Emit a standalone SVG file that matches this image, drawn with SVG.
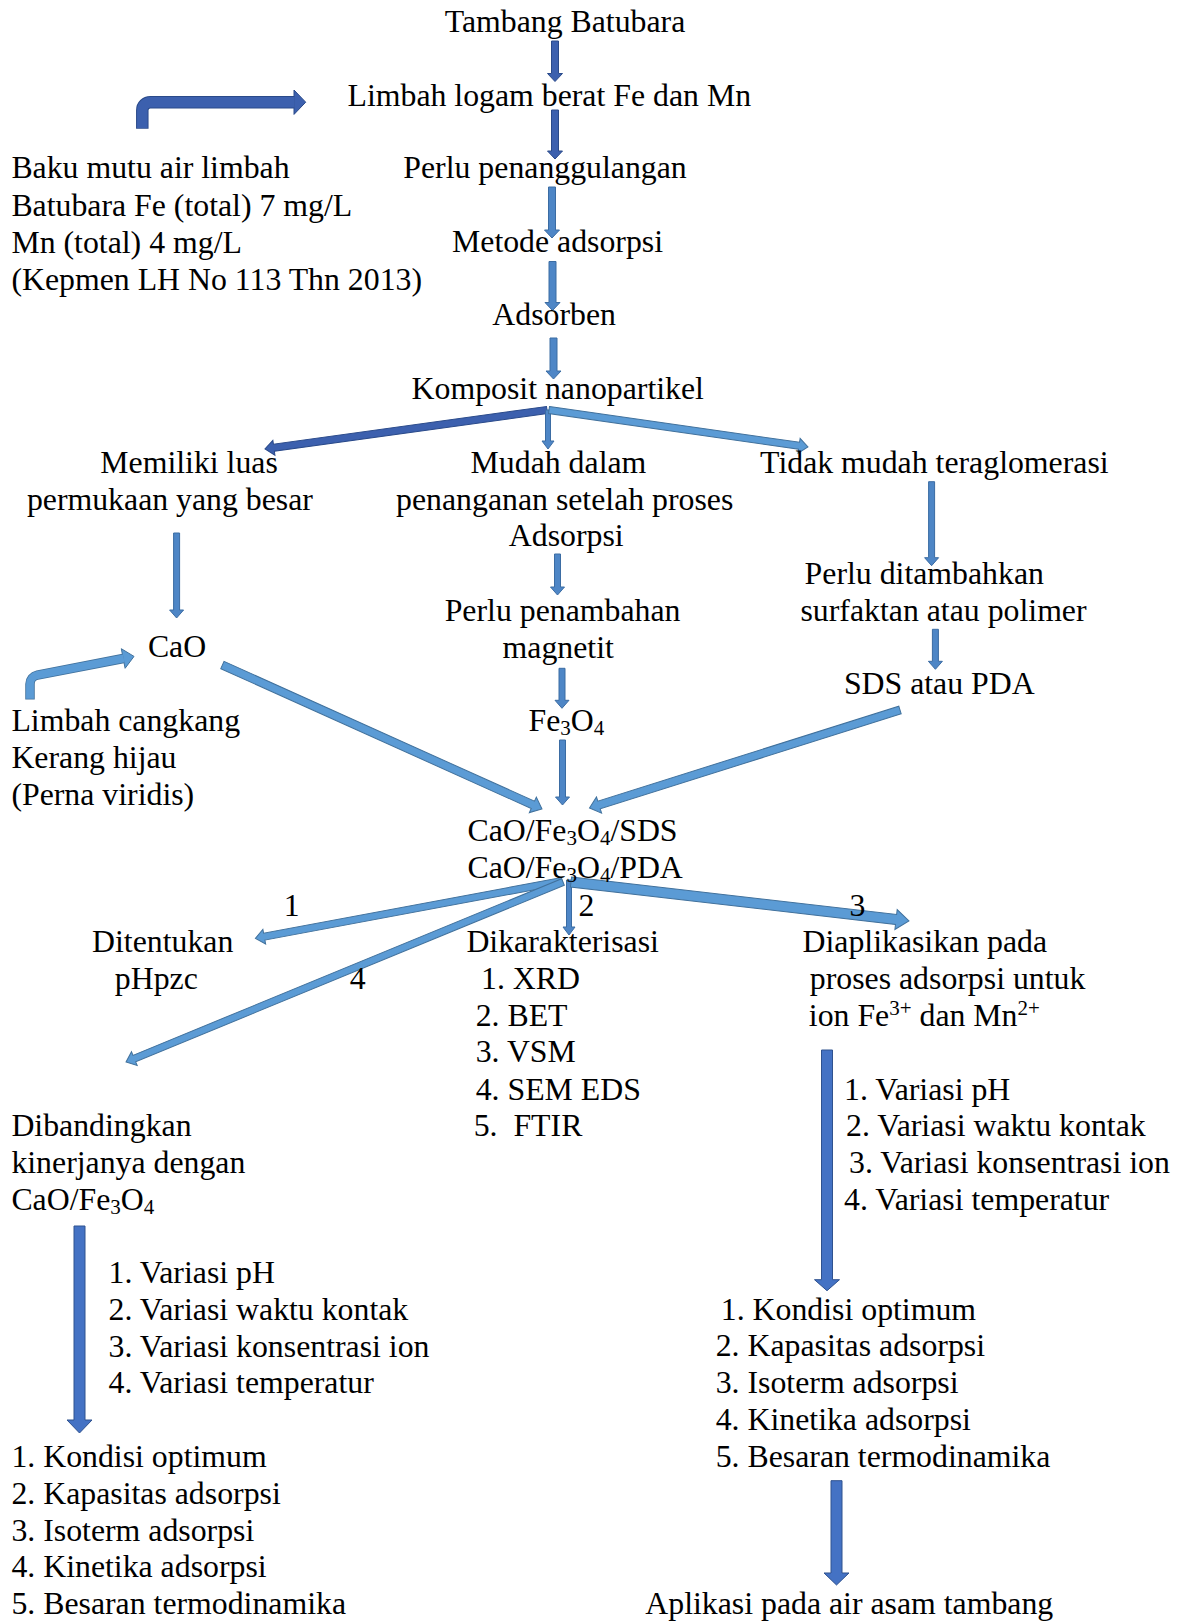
<svg xmlns="http://www.w3.org/2000/svg" width="1178" height="1621" viewBox="0 0 1178 1621">
<style>
text{font-family:"Liberation Serif","Times New Roman",serif;font-size:31.8px;fill:#000}
.sub{font-size:21px}
.sup{font-size:21px}
.num{text-anchor:middle}
.dk{fill:#3C60AE;stroke:#2A4A8A;stroke-width:1}
.md{fill:#4E86C6;stroke:#3B6CA3;stroke-width:1}
.lt{fill:#5B9BD5;stroke:#41719C;stroke-width:1}
.bg{fill:#4472C4;stroke:#2F528F;stroke-width:1}
.sh{fill:none;stroke-linecap:butt;stroke-linejoin:round}
</style>
<rect width="1178" height="1621" fill="#fff"/>

<g id="connectors">
  <!-- top chain -->
  <path class="dk" transform="translate(555,41) rotate(90)" d="M0,-3.5H32.5V-7.5L40.5,0L32.5,7.5V3.5H0Z"/>
  <path class="dk" transform="translate(555,110) rotate(90)" d="M0,-3.5H41V-7.5L49,0L41,7.5V3.5H0Z"/>
  <path class="md" transform="translate(552,187) rotate(90)" d="M0,-3.5H43V-7.5L51,0L43,7.5V3.5H0Z"/>
  <path class="md" transform="translate(552.5,261.5) rotate(90)" d="M0,-3.5H41V-7.5L49,0L41,7.5V3.5H0Z"/>
  <path class="md" transform="translate(553.5,338) rotate(90)" d="M0,-3.5H33V-7.5L41,0L33,7.5V3.5H0Z"/>
  <!-- bent arrow: baku mutu -> limbah -->
  <path class="sh" stroke="#2A4A8A" stroke-width="12.5" d="M142.3,128.8V110.2A8,8 0 0 1 150.3,102.2H294"/>
  <polygon class="dk" points="294,90 305.7,102.2 294,114.4"/>
  <path class="sh" stroke="#3C60AE" stroke-width="10.5" d="M142.3,128V110.2A8,8 0 0 1 150.3,102.2H294.6"/>
  <!-- komposit branches -->
  <path class="dk" transform="translate(547,410) rotate(172.13)" d="M0,-3.5H275.7V-7.5L284.7,0L275.7,7.5V3.5H0Z"/>
  <path class="md" transform="translate(548,410) rotate(90)" d="M0,-2.5H31V-6L39,0L31,6V2.5H0Z"/>
  <path class="lt" transform="translate(549,410) rotate(8.13)" d="M0,-3.5H252.6V-7.5L261.6,0L252.6,7.5V3.5H0Z"/>
  <!-- columns -->
  <path class="md" transform="translate(176.6,533) rotate(90)" d="M0,-3H77V-7L85,0L77,7V3H0Z"/>
  <path class="md" transform="translate(557.5,554) rotate(90)" d="M0,-3H33V-7L41,0L33,7V3H0Z"/>
  <path class="md" transform="translate(931.6,481.7) rotate(90)" d="M0,-3H76V-7L84,0L76,7V3H0Z"/>
  <path class="md" transform="translate(935.4,629.3) rotate(90)" d="M0,-3H32V-7L40,0L32,7V3H0Z"/>
  <path class="md" transform="translate(562,668.3) rotate(90)" d="M0,-3H32V-7L40,0L32,7V3H0Z"/>
  <path class="md" transform="translate(562.5,740) rotate(90)" d="M0,-3H57V-7L65,0L57,7V3H0Z"/>
  <path class="lt" transform="translate(222.4,665) rotate(24.25)" d="M0,-4H340.5V-8.5L350.5,0L340.5,8.5V4H0Z"/>
  <path class="lt" transform="translate(900,710) rotate(162.48)" d="M0,-4H315.6V-8.5L325.6,0L315.6,8.5V4H0Z"/>
  <!-- bent arrow: limbah cangkang -> CaO -->
  <path class="sh" stroke="#41719C" stroke-width="9.5" d="M30,699.5V684A9,9 0 0 1 37.3,675.2L123.2,658.5"/>
  <polygon class="lt" points="125.1,668.3 134,656.4 121.3,648.7"/>
  <path class="sh" stroke="#5B9BD5" stroke-width="7.8" d="M30,698.8V684A9,9 0 0 1 37.3,675.2L123.8,658.4"/>
  <!-- composite branches -->
  <path class="lt" transform="translate(562,881) rotate(169.41)" d="M0,-3.5H302.9V-7.5L311.9,0L302.9,7.5V3.5H0Z"/>
  <path class="lt" transform="translate(563,882) rotate(157.61)" d="M0,-3.5H463.6V-7.5L472.6,0L463.6,7.5V3.5H0Z"/>
  <path class="md" transform="translate(569,880) rotate(90)" d="M0,-2.5H47V-6L55,0L47,6V2.5H0Z"/>
  <path class="lt" transform="translate(571,882) rotate(6.58)" d="M0,-5H327.2V-10L340.2,0L327.2,10V5H0Z"/>
  <!-- big verticals -->
  <path class="bg" transform="translate(827,1050) rotate(90)" d="M0,-5.5H229.7V-12.5L240.7,0L229.7,12.5V5.5H0Z"/>
  <path class="bg" transform="translate(79.5,1226) rotate(90)" d="M0,-5.5H194V-12.5L207,0L194,12.5V5.5H0Z"/>
  <path class="bg" transform="translate(836.5,1480.7) rotate(90)" d="M0,-5.5H92.3V-12.5L104.3,0L92.3,12.5V5.5H0Z"/>
</g>

<g id="n-tambang"><text x="444.7" y="31.5">Tambang Batubara</text></g>
<g id="n-limbah"><text x="347.5" y="106">Limbah logam berat Fe dan Mn</text></g>
<g id="n-baku">
  <text x="11.4" y="178">Baku mutu air limbah</text>
  <text x="11.4" y="215.5">Batubara Fe (total) 7 mg/L</text>
  <text x="11.4" y="252.5">Mn (total) 4 mg/L</text>
  <text x="11.4" y="290">(Kepmen LH No 113 Thn 2013)</text>
</g>
<g id="n-perlu"><text x="403.3" y="178.3">Perlu penanggulangan</text></g>
<g id="n-metode"><text x="452" y="252.3">Metode adsorpsi</text></g>
<g id="n-adsorben"><text x="492.3" y="325">Adsorben</text></g>
<g id="n-komposit"><text x="411.6" y="399">Komposit nanopartikel</text></g>
<g id="n-memiliki">
  <text x="100.3" y="473">Memiliki luas</text>
  <text x="26.9" y="510">permukaan yang besar</text>
</g>
<g id="n-mudah">
  <text x="470.6" y="473">Mudah dalam</text>
  <text x="396.1" y="510">penanganan setelah proses</text>
  <text x="508.8" y="546">Adsorpsi</text>
</g>
<g id="n-tidak"><text x="760.1" y="473">Tidak mudah teraglomerasi</text></g>
<g id="n-perlu-ditambahkan">
  <text x="804.6" y="583.5">Perlu ditambahkan</text>
  <text x="800.5" y="620.7">surfaktan atau polimer</text>
</g>
<g id="n-sds"><text x="843.9" y="694">SDS atau PDA</text></g>
<g id="n-perlu-penambahan">
  <text x="444.7" y="620.7">Perlu penambahan</text>
  <text x="502.6" y="658">magnetit</text>
</g>
<g id="n-cao"><text x="147.9" y="657">CaO</text></g>
<g id="n-cangkang">
  <text x="11.4" y="731.4">Limbah cangkang</text>
  <text x="11.4" y="767.6">Kerang hijau</text>
  <text x="11.4" y="804.8">(Perna viridis)</text>
</g>
<g id="n-fe3o4"><text x="528.5" y="731.4">Fe<tspan class="sub" dy="4">3</tspan><tspan dy="-4">O</tspan><tspan class="sub" dy="4">4</tspan></text></g>
<g id="n-komposit2">
  <text x="467.5" y="841">CaO/Fe<tspan class="sub" dy="4">3</tspan><tspan dy="-4">O</tspan><tspan class="sub" dy="4">4</tspan><tspan dy="-4">/SDS</tspan></text>
  <text x="467.5" y="878.2">CaO/Fe<tspan class="sub" dy="4">3</tspan><tspan dy="-4">O</tspan><tspan class="sub" dy="4">4</tspan><tspan dy="-4">/PDA</tspan></text>
</g>
<g id="labels">
  <text class="num" x="291.6" y="915.5">1</text>
  <text class="num" x="586.4" y="915.5">2</text>
  <text class="num" x="857.4" y="915.5">3</text>
  <text class="num" x="357.8" y="989">4</text>
</g>
<g id="n-ditentukan">
  <text x="92" y="951.7">Ditentukan</text>
  <text x="114.8" y="989">pHpzc</text>
</g>
<g id="n-dikarakterisasi">
  <text x="466.4" y="951.7">Dikarakterisasi</text>
  <text x="481" y="989">1. XRD</text>
  <text x="475.7" y="1026">2. BET</text>
  <text x="475.7" y="1062.3">3. VSM</text>
  <text x="475.7" y="1099.5">4. SEM EDS</text>
  <text x="473.7" y="1135.7" xml:space="preserve">5.  FTIR</text>
</g>
<g id="n-diaplikasikan">
  <text x="802.5" y="951.7">Diaplikasikan pada</text>
  <text x="809.8" y="989">proses adsorpsi untuk</text>
  <text x="808.8" y="1026">ion Fe<tspan class="sup" dy="-11">3+</tspan><tspan dy="11"> dan Mn</tspan><tspan class="sup" dy="-11">2+</tspan></text>
</g>
<g id="n-variasi-kanan">
  <text x="844" y="1099.5">1. Variasi pH</text>
  <text x="846" y="1135.7">2. Variasi waktu kontak</text>
  <text x="849" y="1173">3. Variasi konsentrasi ion</text>
  <text x="844" y="1210">4. Variasi temperatur</text>
</g>
<g id="n-dibandingkan">
  <text x="11.4" y="1135.7">Dibandingkan</text>
  <text x="11.4" y="1173">kinerjanya dengan</text>
  <text x="11.4" y="1210">CaO/Fe<tspan class="sub" dy="4">3</tspan><tspan dy="-4">O</tspan><tspan class="sub" dy="4">4</tspan></text>
</g>
<g id="n-variasi-kiri">
  <text x="108.6" y="1282.5">1. Variasi pH</text>
  <text x="108.6" y="1319.8">2. Variasi waktu kontak</text>
  <text x="108.6" y="1357">3. Variasi konsentrasi ion</text>
  <text x="108.6" y="1393.3">4. Variasi temperatur</text>
</g>
<g id="n-hasil-kanan">
  <text x="720.8" y="1320">1. Kondisi optimum</text>
  <text x="715.7" y="1356">2. Kapasitas adsorpsi</text>
  <text x="715.7" y="1392.5">3. Isoterm adsorpsi</text>
  <text x="715.7" y="1430">4. Kinetika adsorpsi</text>
  <text x="715.7" y="1466.7">5. Besaran termodinamika</text>
</g>
<g id="n-hasil-kiri">
  <text x="11.4" y="1467">1. Kondisi optimum</text>
  <text x="11.4" y="1503.5">2. Kapasitas adsorpsi</text>
  <text x="11.4" y="1540.5">3. Isoterm adsorpsi</text>
  <text x="11.4" y="1577">4. Kinetika adsorpsi</text>
  <text x="11.4" y="1614">5. Besaran termodinamika</text>
</g>
<g id="n-aplikasi"><text x="645.3" y="1614">Aplikasi pada air asam tambang</text></g>
</svg>
